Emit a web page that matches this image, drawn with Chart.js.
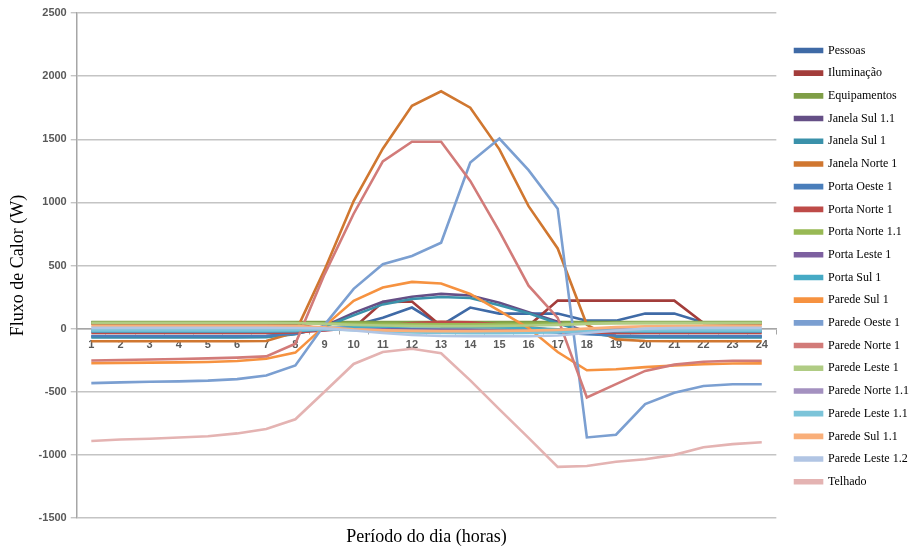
<!DOCTYPE html>
<html><head><meta charset="utf-8">
<script src="https://cdn.jsdelivr.net/npm/chart.js@4.4.1/dist/chart.umd.min.js"></script>
<style>html,body{margin:0;padding:0;background:#fff}#wrap{width:923px;height:551px}</style>
</head><body><div id="wrap"><canvas id="c" width="923" height="551"></canvas></div>
<script>
const hours = ["1","2","3","4","5","6","7","8","9","10","11","12","13","14","15","16","17","18","19","20","21","22","23","24"];
const yTicks = [-1500,-1000,-500,0,500,1000,1500,2000,2500];

const seriesNames = ["Pessoas","Iluminação","Equipamentos","Janela Sul 1.1","Janela Sul 1","Janela Norte 1","Porta Oeste 1","Porta Norte 1","Porta Norte 1.1","Porta Leste 1","Porta Sul 1","Parede Sul 1","Parede Oeste 1","Parede Norte 1","Parede Leste 1","Parede Norte 1.1","Parede Leste 1.1","Parede Sul 1.1","Parede Leste 1.2","Telhado"];
const seriesColors = ["#3F6AA6","#A33D3B","#7F9E47","#654F86","#3A91AA","#D07730","#4A7EBB","#BE4B48","#98B954","#7D60A0","#46AAC5","#F69240","#7B9FD1","#D27B79","#B0CC84","#A491C0","#7CC4D9","#F9AF7A","#B1C5E4","#E4B3B2"];

const pessoas       = [50,50,50,50,50,50,50,50,48,25,87,167,25,167,119,119,119,63,63,119,119,48,50,50];
const iluminacao    = [40,40,40,40,40,40,40,40,-10,5,210,215,20,20,20,22,222,222,222,222,222,45,40,40];
const equipamentos  = [52,52,52,52,52,52,52,52,52,52,52,52,52,52,52,52,52,52,52,52,52,52,52,52];
const janelaSul11   = [-62,-62,-62,-62,-62,-62,-60,-40,20,125,212,252,275,262,205,130,55,-25,-58,-62,-62,-62,-62,-62];
const janelaSul1    = [-70,-70,-70,-70,-70,-70,-68,-45,15,105,192,235,250,242,185,122,42,-30,-65,-70,-70,-70,-70,-70];
const janelaNorte1  = [-100,-100,-100,-100,-100,-100,-98,-30,465,1010,1425,1765,1880,1750,1420,970,635,30,-85,-98,-100,-100,-100,-100];
const portaOeste1   = [-58,-58,-58,-58,-58,-58,-56,-40,5,10,5,-5,-10,-10,-15,-20,-30,-45,-55,-58,-58,-58,-58,-58];
const portaNorte1   = [-35,-35,-35,-35,-35,-35,-34,-30,-15,5,25,45,55,50,35,12,-15,-30,-35,-35,-35,-35,-35,-35];
const portaNorte11  = [42,42,42,42,42,42,42,42,42,40,38,36,35,35,36,38,40,42,42,42,42,42,42,42];
const portaLeste1   = [-20,-20,-20,-20,-20,-20,-20,-18,-10,-5,-5,-10,-12,-14,-15,-16,-18,-20,-20,-20,-20,-20,-20,-20];
const portaSul1     = [-22,-22,-22,-22,-22,-22,-22,-20,-5,10,15,18,18,15,10,5,-5,-15,-20,-22,-22,-22,-22,-22];
const paredeSul1    = [-273,-271,-269,-267,-264,-257,-238,-190,20,220,325,370,357,275,140,5,-185,-330,-322,-305,-292,-282,-276,-275];
const paredeOeste1  = [-432,-426,-421,-418,-412,-400,-372,-292,30,315,510,575,680,1315,1505,1255,950,-862,-840,-598,-508,-455,-440,-440];
const paredeNorte1  = [-252,-248,-244,-240,-236,-230,-220,-120,430,910,1325,1480,1480,1170,770,340,85,-545,-440,-335,-285,-262,-255,-255];
const paredeLeste1  = [46,46,46,46,46,46,46,44,38,30,25,22,20,20,22,25,30,38,44,46,46,46,46,46];
const paredeNorte11 = [-8,-8,-8,-8,-8,-8,-8,-8,0,-5,-12,-18,-22,-24,-25,-24,-20,-14,-10,-8,-8,-8,-8,-8];
const paredeLeste11 = [-14,-14,-14,-14,-14,-14,-14,-12,-5,-12,-22,-30,-34,-36,-36,-34,-28,-20,-16,-14,-14,-14,-14,-14];
const paredeSul11   = [22,22,22,22,22,22,22,20,10,-5,-14,-18,-20,-20,-18,-16,-10,0,12,18,20,22,22,22];
const paredeLeste12 = [6,6,6,6,6,6,6,5,2,-15,-35,-50,-58,-60,-60,-60,-55,-35,-15,0,4,6,6,6];
const telhado       = [-890,-878,-872,-862,-852,-830,-795,-718,-500,-280,-185,-160,-195,-410,-640,-865,-1095,-1088,-1055,-1035,-1000,-940,-915,-900];

const seriesData = [pessoas,iluminacao,equipamentos,janelaSul11,janelaSul1,janelaNorte1,portaOeste1,portaNorte1,portaNorte11,portaLeste1,portaSul1,paredeSul1,paredeOeste1,paredeNorte1,paredeLeste1,paredeNorte11,paredeLeste11,paredeSul11,paredeLeste12,telhado];

const xTitle = "Período do dia (horas)";
const yTitle = "Fluxo de Calor (W)";

const xTitlePlugin = {
  id: 'xTitlePlugin',
  afterDraw(chart) {
    const {ctx, chartArea} = chart;
    ctx.save();
    ctx.font = '18px "Liberation Serif", "Times New Roman", serif';
    ctx.fillStyle = '#000';
    ctx.textAlign = 'center';
    ctx.textBaseline = 'middle';
    ctx.fillText(xTitle, (chartArea.left + chartArea.right) / 2, 537);
    ctx.restore();
  }
};

const N = seriesNames.length;
const datasets = seriesNames.map((name, i) => ({
  label: name,
  data: seriesData[i],
  borderColor: seriesColors[i],
  backgroundColor: seriesColors[i],
  borderWidth: 2.6,
  pointRadius: 0,
  pointHoverRadius: 0,
  tension: 0,
  fill: false,
  order: N - i
}));

const tickFont = {family: '"Liberation Sans", Arial, sans-serif', size: 11, weight: 'bold'};

new Chart(document.getElementById('c'), {
  type: 'line',
  data: {labels: hours, datasets},
  options: {
    responsive: false,
    animation: false,
    devicePixelRatio: 1,
    layout: {padding: {left: 7, right: 4, top: 13, bottom: 33}},
    plugins: {
      legend: {
        position: 'right',
        align: 'center',
        title: {display: true, text: ' ', padding: 0, font: {size: 1}},
        labels: {
          boxWidth: 27,
          boxHeight: 3,
          padding: 10.7,
          color: '#000',
          font: {family: '"Liberation Serif", "Times New Roman", serif', size: 12},
          sort: (a, b) => a.datasetIndex - b.datasetIndex
        }
      },
      tooltip: {enabled: false}
    },
    scales: {
      x: {
        type: 'category',
        offset: true,
        position: {y: 0},
        grid: {display: true, drawOnChartArea: false, offset: true, tickLength: 5, color: '#A6A6A6', lineWidth: 1},
        border: {display: true, color: '#A6A6A6', width: 1.5},
        ticks: {color: '#595959', font: tickFont, padding: 5, maxRotation: 0, autoSkip: false}
      },
      y: {
        min: -1500,
        max: 2500,
        afterBuildTicks(scale) { scale.ticks = yTicks.map(v => ({value: v})); },
        grid: {color: '#C4C4C4', lineWidth: 1.4, tickLength: 6, drawTicks: true},
        border: {display: true, color: '#A6A6A6', width: 1.5},
        ticks: {color: '#595959', font: tickFont, padding: 4, callback: (v) => String(v)},
        title: {display: true, text: yTitle, color: '#000', font: {family: '"Liberation Serif", "Times New Roman", serif', size: 18}, padding: {top: 0, bottom: 6}}
      },
      spacer: {
        type: 'linear',
        position: 'right',
        display: true,
        grid: {display: false, drawTicks: false},
        border: {display: false},
        ticks: {display: false},
        afterFit(scale) { scale.width = 8; }
      }
    }
  },
  plugins: [xTitlePlugin]
});
</script>
</body></html>
